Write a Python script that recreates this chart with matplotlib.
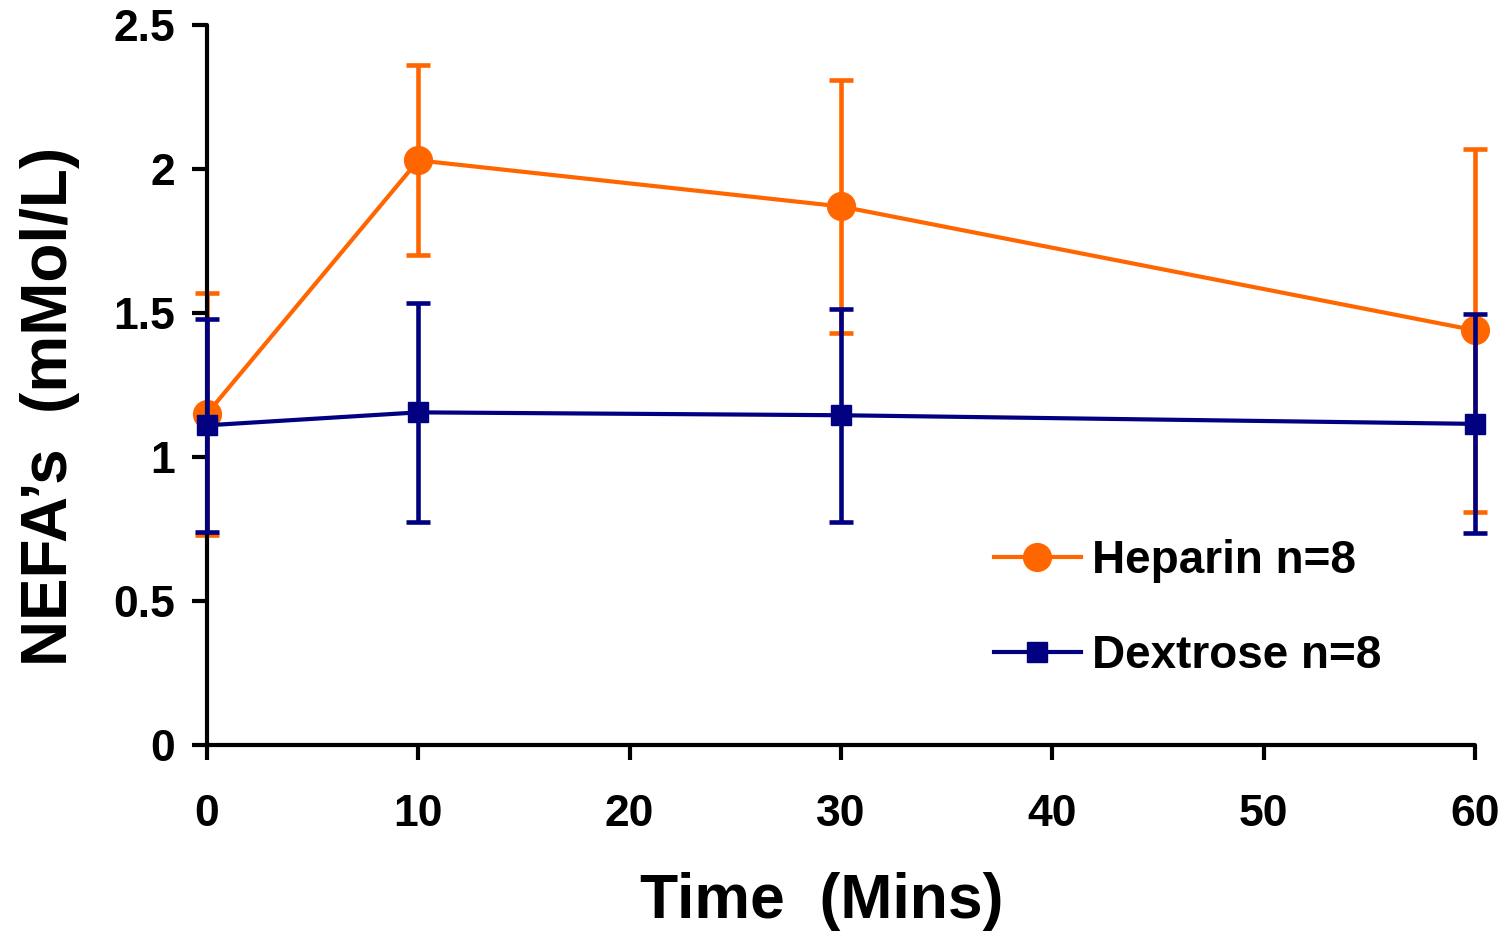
import matplotlib
matplotlib.use('Agg')
import matplotlib.pyplot as plt

plt.rcParams['font.family'] = ['Liberation Sans', 'DejaVu Sans']
plt.rcParams['font.weight'] = 'bold'

time_mins = [0, 10, 30, 60]

heparin_mean = [1.15, 2.03, 1.87, 1.44]
heparin_err = [0.42, 0.33, 0.44, 0.63]

dextrose_mean = [1.11, 1.155, 1.145, 1.115]
dextrose_err = [0.37, 0.38, 0.37, 0.38]

y_ticks = [0, 0.5, 1, 1.5, 2, 2.5]
y_tick_labels = ['0', '0.5', '1', '1.5', '2', '2.5']
x_ticks = [0, 10, 20, 30, 40, 50, 60]

orange = '#FF6600'
navy = '#000080'

fig = plt.figure(figsize=(15.05, 9.33), dpi=100)
ax = fig.add_axes([0.1375, 0.2015, 0.8425, 0.7717])

series = [
    (heparin_mean, heparin_err, orange, 'o', 20, 'Heparin n=8', 2),
    (dextrose_mean, dextrose_err, navy, 's', 15, 'Dextrose n=8', 3),
]
for mean, err, col, mk, ms, lab, z in series:
    cont = ax.errorbar(time_mins, mean, yerr=err, color=col, marker=mk,
                       markersize=ms, linewidth=3, elinewidth=3.3,
                       capsize=8.5, capthick=3.3, label=lab, zorder=z)
    # keep markers and bars whole at the axis edges
    for artist in [cont[0], *cont[1], *cont[2]]:
        artist.set_clip_on(False)

ax.set_xlim(0, 60)
ax.set_ylim(0, 2.5)
ax.set_xticks(x_ticks)
ax.set_yticks(y_ticks)
ax.set_yticklabels(y_tick_labels)

for side in ['top', 'right']:
    ax.spines[side].set_visible(False)
for side in ['left', 'bottom']:
    ax.spines[side].set_linewidth(3)
    ax.spines[side].set_capstyle('round')

ax.tick_params(axis='both', direction='out', length=11, width=3, labelsize=32)
ax.tick_params(axis='x', pad=24)
ax.tick_params(axis='y', pad=12)
for lbl in ax.get_xticklabels() + ax.get_yticklabels():
    lbl.set_fontweight('bold')

ax.set_xlabel('Time  (Mins)', fontsize=45, fontweight='bold')
ax.xaxis.set_label_coords(0.485, -0.176)
ax.set_ylabel('NEFA\u2019s  (mMol/L)', fontsize=46, fontweight='bold')
ax.yaxis.set_label_coords(-0.10, 0.47)

# legend entries show the line and marker only, no error bars
handles, labels = ax.get_legend_handles_labels()
handles = [h[0] for h in handles]
ax.legend(handles, labels, loc='upper left', bbox_to_anchor=(0.588, 0.343),
          frameon=False, handlelength=1.9, handletextpad=0.25,
          labelspacing=1.1, prop={'weight': 'bold', 'size': 33})

fig.savefig('out.png', dpi=100)
